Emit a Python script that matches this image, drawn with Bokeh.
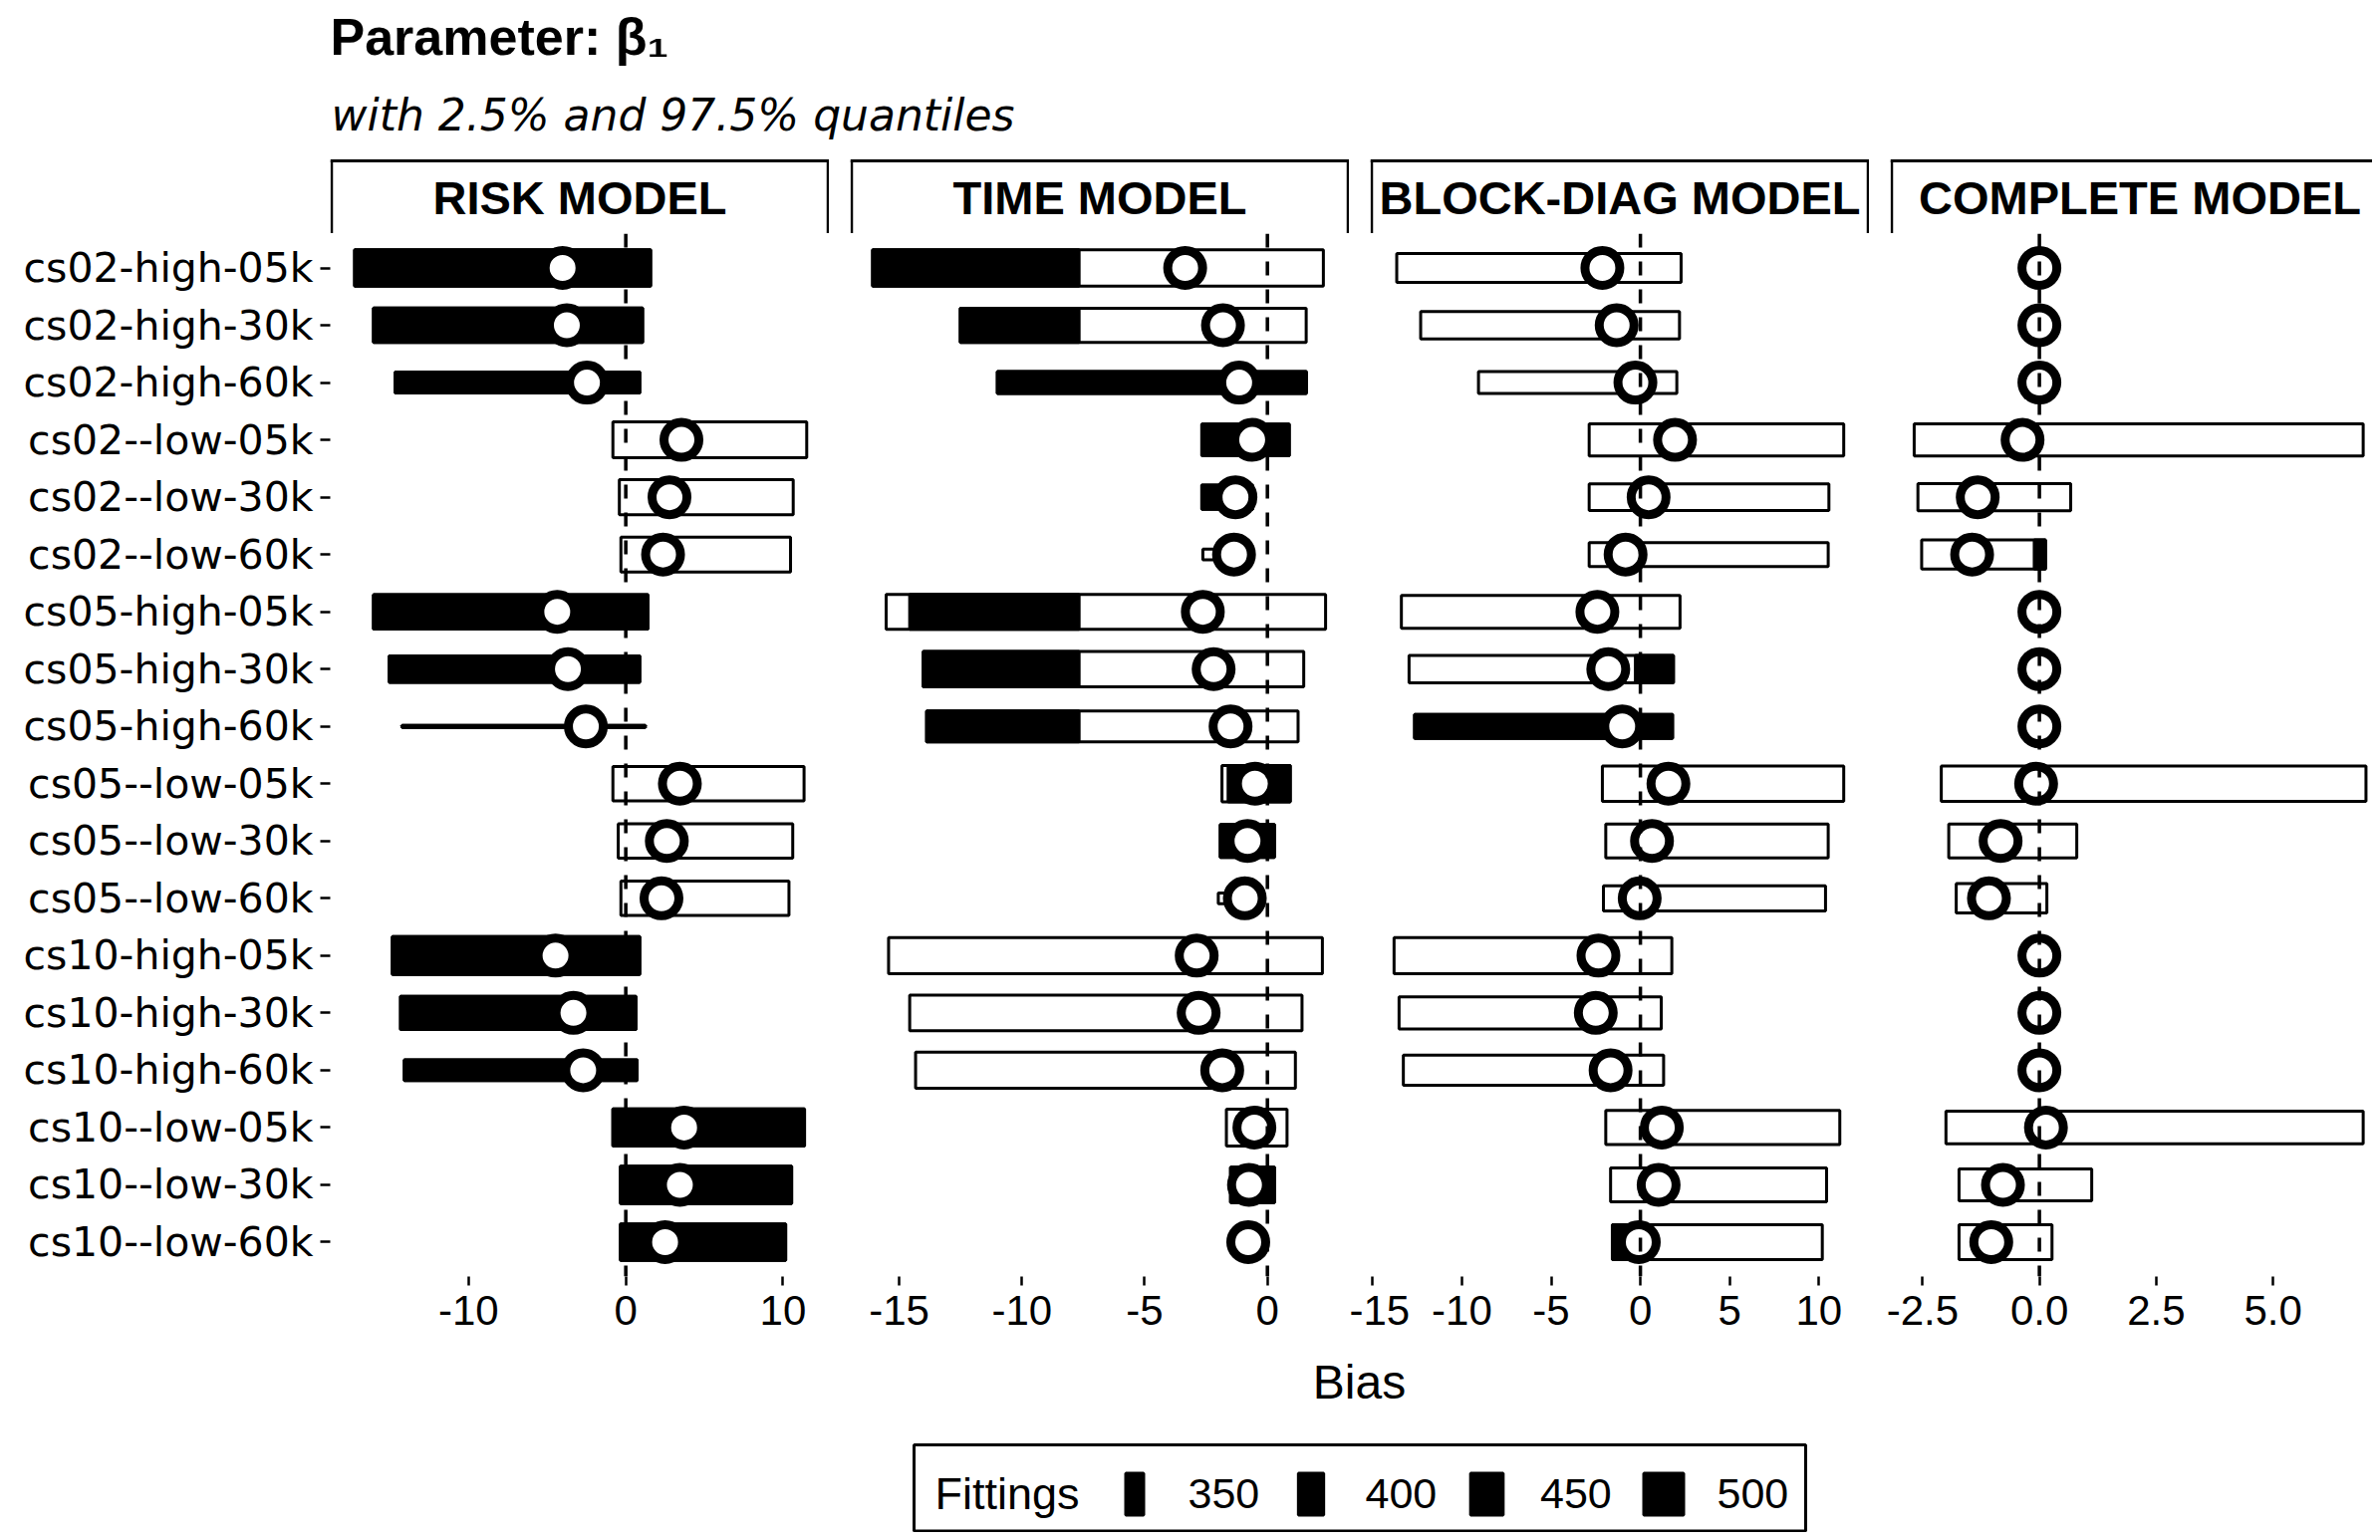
import math
from bokeh.plotting import figure
from bokeh.layouts import column, row
from bokeh.models import Range1d, FixedTicker, Span, Spacer, NumeralTickFormatter
from bokeh.core.properties import value
from bokeh.embed import file_html
from bokeh.resources import INLINE

N = float("nan")

# ------------------------------------------------------------------ data
rows = ["cs02-high-05k", "cs02-high-30k", "cs02-high-60k",
        "cs02--low-05k", "cs02--low-30k", "cs02--low-60k",
        "cs05-high-05k", "cs05-high-30k", "cs05-high-60k",
        "cs05--low-05k", "cs05--low-30k", "cs05--low-60k",
        "cs10-high-05k", "cs10-high-30k", "cs10-high-60k",
        "cs10--low-05k", "cs10--low-30k", "cs10--low-60k"]

models = ["RISK MODEL", "TIME MODEL", "BLOCK-DIAG MODEL", "COMPLETE MODEL"]

# RISK MODEL
risk_lo = [-17.25, -16.05, -14.67, -0.82, -0.41, -0.31, -16.05, -15.05, -14.23,
           -0.82, -0.48, -0.31, -14.85, -14.33, -14.09, -0.82, -0.34, -0.34]
risk_hi = [1.58, 1.07, 0.89, 11.51, 10.65, 10.48, 1.41, 0.89, 1.24,
           11.34, 10.62, 10.38, 0.89, 0.65, 0.72, 11.37, 10.55, 10.17]
risk_black_lo = [-17.25, -16.05, -14.67, N, N, N, -16.05, -15.05, -14.23,
                 N, N, N, -14.85, -14.33, -14.09, -0.82, -0.34, -0.34]
risk_black_hi = [1.58, 1.07, 0.89, N, N, N, 1.41, 0.89, 1.24,
                 N, N, N, 0.89, 0.65, 0.72, 11.37, 10.55, 10.17]
risk_mean = [-4.02, -3.75, -2.47, 3.54, 2.78, 2.37, -4.36, -3.68, -2.54,
             3.44, 2.61, 2.27, -4.47, -3.33, -2.71, 3.71, 3.44, 2.50]
risk_fit = [477, 462, 370, 473, 466, 466, 462, 407, 240,
            462, 462, 462, 486, 453, 370, 482, 482, 477]

# TIME MODEL
time_lo = [-16.08, -12.51, -11.00, -2.67, -2.67, -2.63, -15.53, -14.02, -13.88,
           -1.85, -1.92, -2.00, -15.43, -14.57, -14.33, -1.67, -1.50, -1.30]
time_hi = [2.28, 1.58, 1.59, 0.89, -0.60, -0.70, 2.37, 1.48, 1.25,
           0.93, 0.29, -0.30, 2.24, 1.41, 1.14, 0.80, 0.29, -0.35]
time_black_lo = [-16.08, -12.51, -11.00, -2.67, -2.67, N, -14.57, -14.02, -13.88,
                 -1.60, -1.92, N, N, N, N, N, -1.50, N]
time_black_hi = [-7.67, -7.67, 1.59, 0.89, -0.60, N, -7.67, -7.67, -7.67,
                 0.93, 0.29, N, N, N, N, N, 0.29, N]
time_mean = [-3.35, -1.81, -1.15, -0.62, -1.30, -1.36, -2.63, -2.19, -1.50,
             -0.51, -0.81, -0.92, -2.88, -2.80, -1.84, -0.53, -0.75, -0.78]
time_fit = [475, 461, 378, 443, 392, 300, 466, 470, 438,
            475, 452, 300, 475, 470, 475, 480, 470, 300]

# BLOCK-DIAG MODEL
block_lo = [-13.65, -12.31, -9.07, -2.87, -2.87, -2.87, -13.39, -12.96, -12.65,
            -2.13, -1.94, -2.07, -13.80, -13.52, -13.28, -1.94, -1.67, -1.57]
block_hi = [2.28, 2.19, 2.04, 11.39, 10.56, 10.52, 2.22, 1.85, 1.80,
            11.39, 10.52, 10.37, 1.76, 1.17, 1.30, 11.17, 10.43, 10.19]
block_black_lo = [N, N, N, N, N, N, N, -0.28, -12.65,
                  N, N, N, N, N, N, N, N, -1.57]
block_black_hi = [N, N, N, N, N, N, N, 1.85, 1.80,
                  N, N, N, N, N, N, N, N, -1.00]
block_mean = [-2.13, -1.33, -0.28, 1.94, 0.46, -0.83, -2.41, -1.80, -1.02,
              1.57, 0.65, -0.04, -2.35, -2.50, -1.67, 1.20, 1.02, -0.09]
block_fit = [424, 414, 377, 447, 410, 391, 452, 414, 391,
             470, 460, 400, 474, 447, 433, 460, 460, 465]

# COMPLETE MODEL
complete_lo = [N, N, N, -2.68, -2.60, -2.52, N, N, N,
               -2.10, -1.94, -1.78, N, N, N, -2.00, -1.72, -1.72]
complete_hi = [N, N, N, 6.93, 0.67, 0.13, N, N, N,
               6.99, 0.80, 0.16, N, N, N, 6.93, 1.12, 0.27]
complete_black_lo = [N, N, N, N, N, -0.11, N, N, N,
                     N, N, N, N, N, N, N, N, N]
complete_black_hi = [N, N, N, N, N, 0.13, N, N, N,
                     N, N, N, N, N, N, N, N, N]
complete_mean = [0.0, 0.0, 0.0, -0.36, -1.32, -1.44, 0.0, 0.0, 0.0,
                 -0.07, -0.83, -1.08, 0.0, 0.0, 0.0, 0.14, -0.78, -1.03]
complete_fit = [N, N, N, 446, 414, 428, N, N, N,
                469, 460, 428, N, N, N, 451, 446, 465]

fitting_levels = [350, 400, 450, 500]

risk_ticks = [-10, 0, 10]
risk_tick_labels = ["-10", "0", "10"]
time_ticks = [-15, -10, -5, 0]
time_tick_labels = ["-15", "-10", "-5", "0"]
block_ticks = [-15, -10, -5, 0, 5, 10]
block_tick_labels = ["-15", "-10", "-5", "0", "5", "10"]
complete_ticks = [-2.5, 0.0, 2.5, 5.0]
complete_tick_labels = ["-2.5", "0.0", "2.5", "5.0"]

title_text = "Parameter: \u03b2\u2081"
subtitle_text = "with 2.5% and 97.5% quantiles"
x_title = "Bias"
legend_title = "Fittings"

# ------------------------------------------------------------------ layout / style
PAGE_W = 2381
HEADER_H = 158
STRIP_H = 76
FRAME_H = 1047
AXIS_H = 70
PANEL_H = FRAME_H + AXIS_H
FOOTER_H = 1538 - HEADER_H - STRIP_H - PANEL_H
LEFT = 331
PW = 501
GAP = 21
LAST_W = PAGE_W - LEFT - 3 * (PW + GAP)

panel_ranges = [(-18.80, 12.95), (-16.99, 3.34), (-15.13, 12.83), (-3.19, 7.13)]


def fit_px(f):
    # thickness (screen px) of a bar for a number of fittings
    return max(1.0, 18 + (f - 350) * 22.0 / 150.0)


def seg(lo, hi):
    xc = [(a + b) / 2 for a, b in zip(lo, hi)]
    w = [b - a for a, b in zip(lo, hi)]
    return xc, w


def bare(p):
    p.xgrid.visible = False
    p.ygrid.visible = False
    p.outline_line_color = None
    p.background_fill_color = "white"
    p.border_fill_color = "white"


def panel(lo, hi, blo, bhi, mean, fit, xr, ticks, tick_labels, frame_w, left, first, fmt=None):
    p = figure(width=frame_w + left, height=PANEL_H, x_range=Range1d(*xr),
               y_range=Range1d(0.4, len(rows) + 0.6),
               output_backend="svg", toolbar_location=None,
               y_axis_location="left" if first else None,
               min_border_left=left, min_border_right=0,
               min_border_top=0, min_border_bottom=AXIS_H)
    p.title.visible = False
    bare(p)
    ys = [len(rows) - i for i in range(len(rows))]
    h = [fit_px(f) if f == f else N for f in fit]
    xc, w = seg(lo, hi)
    p.rect(x=xc, y=ys, width=w, height=h, height_units="screen",
           fill_color="white", line_color="black", line_width=3)
    bxc, bw = seg(blo, bhi)
    p.rect(x=bxc, y=ys, width=bw, height=h, height_units="screen",
           fill_color="black", line_color="black", line_width=3)
    p.scatter(x=mean, y=ys, size=35, marker="circle",
              fill_color="white", line_color="black", line_width=9)
    p.add_layout(Span(location=0, dimension="height", line_color="black",
                      line_width=3.5, line_dash="14 14"))

    ax = p.xaxis[0]
    ax.ticker = FixedTicker(ticks=ticks)
    if fmt is not None:
        ax.formatter = fmt
    ax.major_label_overrides = {t: l for t, l in zip(ticks, tick_labels)}
    ax.axis_line_color = None
    ax.major_tick_line_color = "black"
    ax.major_tick_line_width = 2.5
    ax.major_tick_out = 9
    ax.major_tick_in = 0
    ax.minor_tick_line_color = None
    ax.major_label_text_font = "Liberation Sans"
    ax.major_label_text_font_size = "42px"
    ax.major_label_text_color = "black"
    ax.major_label_standoff = 10

    if first:
        ay = p.yaxis[0]
        ay.ticker = FixedTicker(ticks=ys)
        ay.major_label_overrides = {y: r for y, r in zip(ys, rows)}
        ay.axis_line_color = None
        ay.major_tick_line_color = "black"
        ay.major_tick_line_width = 2.5
        ay.major_tick_out = 10
        ay.major_tick_in = 0
        ay.minor_tick_line_color = None
        ay.major_label_text_font = "DejaVu Sans"
        ay.major_label_text_font_size = "41px"
        ay.major_label_text_color = "black"
        ay.major_label_standoff = 7
    return p


def strip(label, width):
    s = figure(width=width, height=STRIP_H, x_range=Range1d(0, width),
               y_range=Range1d(STRIP_H, 0), output_backend="svg",
               toolbar_location=None, x_axis_location=None, y_axis_location=None,
               min_border=0)
    s.title.visible = False
    bare(s)
    s.segment(x0=[1.5, 0, PW - 1.5], y0=[STRIP_H, 3, STRIP_H],
              x1=[1.5, PW, PW - 1.5], y1=[3, 3, 3],
              line_color="black", line_width=[2.5, 3, 2.5])
    s.text(x=[PW / 2], y=[40], text=[label], text_align="center",
           text_baseline="middle", text_font=value("Liberation Sans"),
           text_font_style="bold", text_font_size="47px", text_color="black")
    return s


def canvas(height):
    c = figure(width=PAGE_W, height=height, x_range=Range1d(0, PAGE_W),
               y_range=Range1d(height, 0), output_backend="svg",
               toolbar_location=None, x_axis_location=None, y_axis_location=None,
               min_border=0)
    c.title.visible = False
    bare(c)
    return c


# header
header = canvas(HEADER_H)
header.text(x=[331], y=[36], text=[title_text], text_align="left",
            text_baseline="middle", text_font=value("Liberation Sans"),
            text_font_style="bold", text_font_size="52px", text_color="black")
header.text(x=[332], y=[115], text=[subtitle_text], text_align="left",
            text_baseline="middle", text_font=value("DejaVu Sans"),
            text_font_style="italic", text_font_size="44px", text_color="black")

# strips
strips = [Spacer(width=LEFT, height=STRIP_H)]
for k, m in enumerate(models):
    if k > 0:
        strips.append(Spacer(width=GAP, height=STRIP_H))
    strips.append(strip(m, LAST_W if k == 3 else PW))

# panels
p1 = panel(risk_lo, risk_hi, risk_black_lo, risk_black_hi, risk_mean, risk_fit,
           panel_ranges[0], risk_ticks, risk_tick_labels, PW, LEFT, True)
p2 = panel(time_lo, time_hi, time_black_lo, time_black_hi, time_mean, time_fit,
           panel_ranges[1], time_ticks, time_tick_labels, PW, GAP, False)
p3 = panel(block_lo, block_hi, block_black_lo, block_black_hi, block_mean, block_fit,
           panel_ranges[2], block_ticks, block_tick_labels, PW, GAP, False)
p4 = panel(complete_lo, complete_hi, complete_black_lo, complete_black_hi, complete_mean,
           complete_fit, panel_ranges[3], complete_ticks, complete_tick_labels, LAST_W, GAP,
           False, fmt=NumeralTickFormatter(format="0.0"))

# footer: axis title + legend
footer = canvas(FOOTER_H)
footer.text(x=[1364], y=[36], text=[x_title], text_align="center",
            text_baseline="middle", text_font=value("Liberation Sans"),
            text_font_size="48px", text_color="black")
footer.quad(left=[917], right=[1812], top=[99], bottom=[FOOTER_H - 1.5],
            fill_color=None, line_color="black", line_width=3)
footer.text(x=[938], y=[148], text=[legend_title], text_align="left",
            text_baseline="middle", text_font=value("Liberation Sans"),
            text_font_size="45px", text_color="black")
key_x = [1138.5, 1315.5, 1492, 1669.5]
lab_x = [1192, 1370, 1545.5, 1723]
footer.rect(x=key_x, y=[148.5] * 4, width=[fit_px(f) for f in fitting_levels],
            width_units="screen", height=42, fill_color="black",
            line_color="black", line_width=3)
footer.text(x=lab_x, y=[148] * 4, text=[str(f) for f in fitting_levels],
            text_align="left", text_baseline="middle",
            text_font=value("Liberation Sans"), text_font_size="43px",
            text_color="black")

layout = column(header, row(*strips), row(p1, p2, p3, p4), footer)

open("out.html", "w").write(file_html(layout, INLINE))
